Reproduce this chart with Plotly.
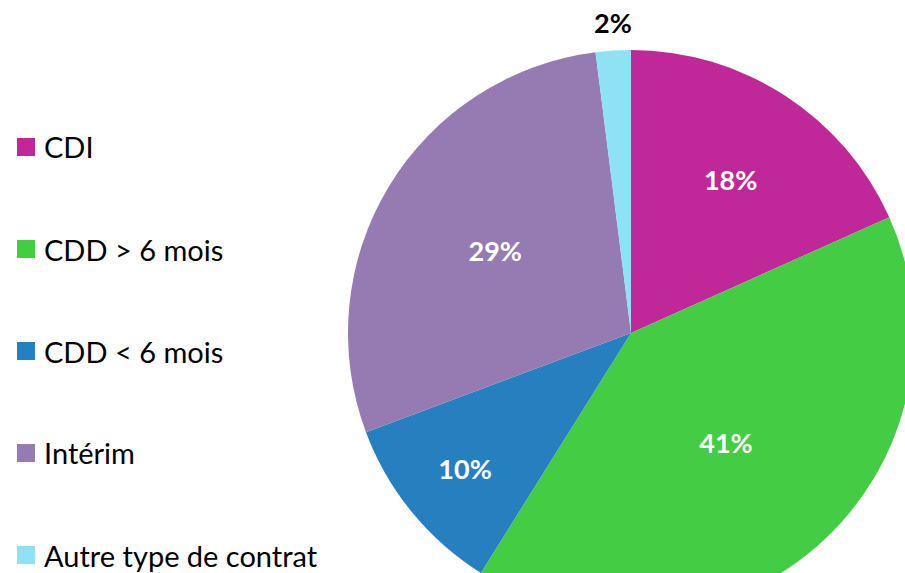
import plotly.graph_objects as go

labels = ["CDI", "CDD > 6 mois", "CDD < 6 mois", "Intérim", "Autre type de contrat"]
values = [18.3, 40.6, 10.4, 28.7, 2.0]
colors = ["#C0289A", "#44CC44", "#2680C0", "#957BB1", "#8EE2F4"]

W, H = 960, 620
FONT = "Lato, 'Open Sans', sans-serif"

total = sum(values)
pct = [f"<b>{round(v / total * 100):.0f}%</b>" for v in values]
# the small slice gets its label as an annotation above the pie
texttemplates = pct[:-1] + [""]

fig = go.Figure()
fig.add_trace(go.Pie(
    labels=labels, values=values, sort=False, direction="clockwise", rotation=0,
    marker=dict(colors=colors, line=dict(width=0)),
    texttemplate=texttemplates,
    textposition="inside",
    insidetextorientation="horizontal",
    textfont=dict(family=FONT, size=27, color="white"),
    showlegend=False,
    domain=dict(x=[348 / W, 914 / W], y=[1 - 616 / H, 1 - 50 / H]),
    hoverinfo="label+percent",
))

shapes = []
annotations = []
for i, (lab, col) in enumerate(zip(labels, colors)):
    yc = 147 + i * 102
    shapes.append(dict(type="rect", xref="paper", yref="paper",
                       x0=17 / W, x1=35 / W, y0=1 - (yc + 9) / H, y1=1 - (yc - 9) / H,
                       fillcolor=col, line=dict(width=0)))
    annotations.append(dict(x=42 / W, y=1 - yc / H, xref="paper", yref="paper",
                            text=lab, showarrow=False, xanchor="left", yanchor="middle",
                            font=dict(family=FONT, size=29, color="black")))

annotations.append(dict(x=613 / W, y=1 - 22 / H, xref="paper", yref="paper",
                        text=pct[-1], showarrow=False, xanchor="center", yanchor="middle",
                        font=dict(family=FONT, size=27, color="black")))

fig.update_layout(
    width=W, height=H, margin=dict(l=0, r=0, t=0, b=0),
    paper_bgcolor="white", plot_bgcolor="white",
    shapes=shapes, annotations=annotations,
)

fig.write_html("out.html", post_script="document.body.style.overflow='hidden';document.body.style.margin='0';")
